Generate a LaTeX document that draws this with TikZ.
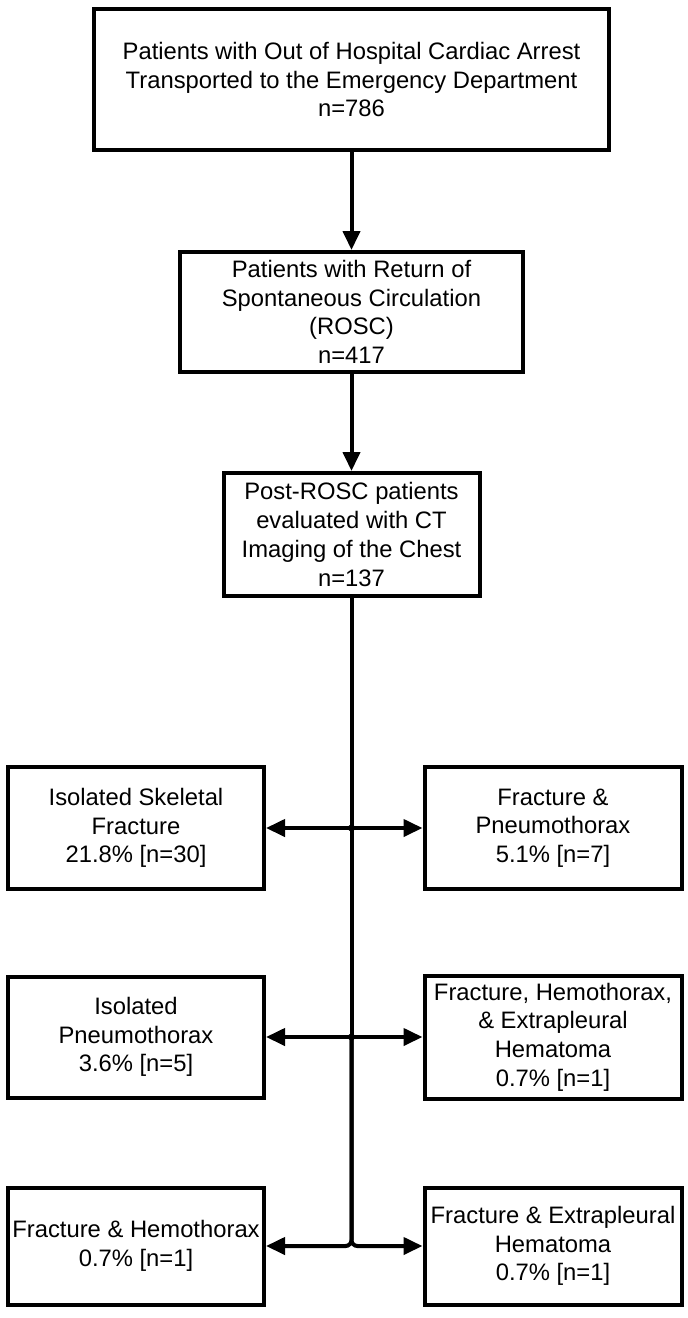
\documentclass[tikz,border=0pt]{standalone}
\usepackage{fontspec}
\setmainfont{Liberation Sans}
\usetikzlibrary{arrows.meta}
\begin{document}
\begin{tikzpicture}[x=1pt,y=-1pt,
box/.style={draw, line width=4pt, align=center, inner sep=2pt, font=\fontsize{23.8}{28.7}\selectfont},
arr/.style={line width=4pt, -{Triangle[length=19pt,width=17pt]}},
trunk/.style={line width=4pt}]
\useasboundingbox (0,0) rectangle (688,1318);
\node[box, minimum width=515pt, minimum height=141pt] (ohca) at (351.5,79.5){Patients with Out of Hospital Cardiac Arrest\\Transported to the Emergency Department\\n=786};
\node[box, minimum width=343pt, minimum height=120pt] (rosc) at (351.5,312){Patients with Return of\\Spontaneous Circulation\\(ROSC)\\n=417};
\node[box, minimum width=256pt, minimum height=123pt] (ct) at (351.5,534.5){Post-ROSC patients\\evaluated with CT\\Imaging of the Chest\\n=137};
\draw[arr](ohca) -- (rosc);
\draw[arr](rosc) -- (ct);
\node[box, minimum width=256pt, minimum height=122pt] (isofx) at (136,828){Isolated Skeletal\\Fracture\\21.8\% [n=30]};
\node[box, minimum width=257pt, minimum height=122pt] (fxptx) at (553,828){Fracture \&\\Pneumothorax\\5.1\% [n=7]};
\node[box, minimum width=256pt, minimum height=121pt] (isoptx) at (136,1037){Isolated\\Pneumothorax\\3.6\% [n=5]};
\node[box, minimum width=257pt, minimum height=123pt] (fxhtxeh) at (553,1037){Fracture, Hemothorax,\\\& Extrapleural\\Hematoma\\0.7\% [n=1]};
\node[box, minimum width=256pt, minimum height=117pt] (fxhtx) at (136,1246){Fracture \& Hemothorax\\0.7\% [n=1]};
\node[box, minimum width=257pt, minimum height=117pt] (fxeh) at (553,1246){Fracture \& Extrapleural\\Hematoma\\0.7\% [n=1]};
\coordinate (j1) at (351.5,828);
\coordinate (j2) at (351.5,1037);
\draw[trunk](ct) -- (j2);
\draw[arr](j1) -- (isofx);
\draw[arr](j1) -- (fxptx);
\fill (j1) circle (3.5);
\draw[arr](j2) -- (isoptx);
\draw[arr](j2) -- (fxhtxeh);
\fill (j2) circle (3.5);
\draw[arr, rounded corners=6pt](j2) |- (fxhtx);
\draw[arr, rounded corners=6pt](j2) |- (fxeh);
\end{tikzpicture}
\end{document}
